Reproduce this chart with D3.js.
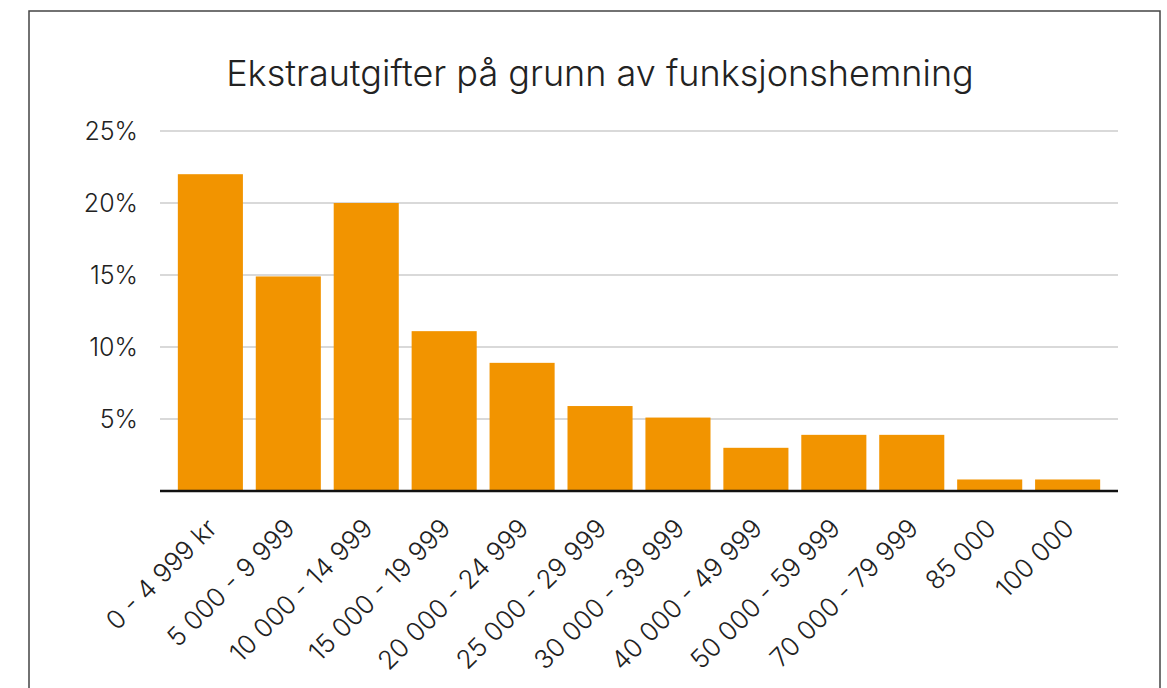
<!DOCTYPE html>
<html>
<head>
<meta charset="utf-8">
<script src="https://cdn.jsdelivr.net/npm/d3@7"></script>
<style>
  body { margin: 0; background: #fff; }
  text { font-family: Inter, "Liberation Sans", sans-serif; fill: #222; }
</style>
</head>
<body>
<div id="chart"></div>
<script>
var categories = ["0 - 4 999 kr", "5 000 - 9 999", "10 000 - 14 999", "15 000 - 19 999",
                  "20 000 - 24 999", "25 000 - 29 999", "30 000 - 39 999", "40 000 - 49 999",
                  "50 000 - 59 999", "70 000 - 79 999", "85 000", "100 000"];
var values = [22, 14.9, 20, 11.1, 8.9, 5.9, 5.1, 3, 3.9, 3.9, 0.8, 0.8];
var yTicks = [5, 10, 15, 20, 25];
var title = "Ekstrautgifter på grunn av funksjonshemning";

var width = 1167, height = 688;

var svg = d3.select("#chart")
            .append("svg")
            .attr("width", width)
            .attr("height", height)

// frame
svg.append("rect")
    .attr("x", 29).attr("y", 11)
    .attr("width", 1131).attr("height", 700)
    .style("fill", "none")
    .style("stroke", "#444")
    .style("stroke-width", 1.5)

svg.append("text")
    .attr("x", 600)
    .attr("y", 86)
    .attr("text-anchor", "middle")
    .style("font-size", "36px")
    .style("font-weight", 300)
    .text(title)

var x = d3.scaleBand()
    .domain(categories)
    .range([171.6, 1106.4])
    .paddingInner(0.165)
    .paddingOuter(0.08)

var y = d3.scaleLinear()
    .domain([0, 25])
    .range([491, 131])

// gridlines
svg.append("g")
    .selectAll("line")
    .data(yTicks)
    .enter()
    .append("line")
    .attr("x1", 160).attr("x2", 1118)
    .attr("y1", function(d) { return y(d); })
    .attr("y2", function(d) { return y(d); })
    .style("stroke", "#d9d9d9")
    .style("stroke-width", 2)

svg.append("g")
    .selectAll("text")
    .data(yTicks)
    .enter()
    .append("text")
    .attr("x", 138)
    .attr("y", function(d) { return y(d); })
    .attr("dy", "0.36em")
    .attr("text-anchor", "end")
    .style("font-size", "25px")
    .style("font-weight", 300)
    .text(function(d) { return d + "%"; })

// bars
svg.append("g")
    .selectAll("rect")
    .data(values)
    .enter()
    .append("rect")
    .attr("x", function(d, i) { return x(categories[i]); })
    .attr("width", x.bandwidth())
    .attr("y", function(d) { return y(d); })
    .attr("height", function(d) { return y(0) - y(d); })
    .style("fill", "#f29400")

// baseline
svg.append("line")
    .attr("x1", 160).attr("x2", 1118)
    .attr("y1", y(0)).attr("y2", y(0))
    .style("stroke", "#111")
    .style("stroke-width", 2.5)

// category labels
svg.append("g")
    .selectAll("text")
    .data(categories)
    .enter()
    .append("text")
    .attr("text-anchor", "end")
    .attr("transform", function(d) {
        var cx = x(d) + x.bandwidth() / 2 + 8;
        return "translate(" + cx + ",530) rotate(-45)";
    })
    .style("font-size", "26px")
    .style("font-weight", 300)
    .text(function(d) { return d; })
</script>
</body>
</html>
